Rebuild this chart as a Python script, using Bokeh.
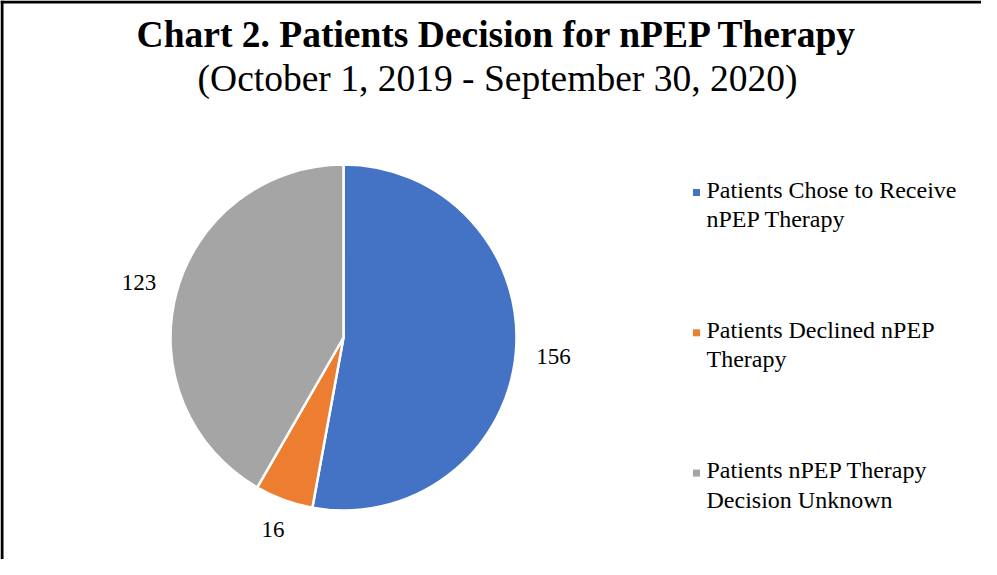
import math
from bokeh.plotting import figure
from bokeh.models import Range1d, Span, ColumnDataSource
from bokeh.core.properties import value
from bokeh.embed import file_html
from bokeh.resources import INLINE

# ---- data ----
title_text = "Chart 2. Patients Decision for nPEP Therapy"
subtitle_text = "(October 1, 2019 - September 30, 2020)"
categories = [
    "Patients Chose to Receive\nnPEP Therapy",
    "Patients Declined nPEP\nTherapy",
    "Patients nPEP Therapy\nDecision Unknown",
]
values = [156, 16, 123]
colors = ["#4472C4", "#ED7D31", "#A5A5A5"]

# ---- layout ----
W, H = 981, 559
FONT = "Liberation Serif"
cx, cy, R = 343, 222, 173
LABEL_FS = 23
label_gap = 20
leg_mx, leg_tx = 696, 706
leg_y0, leg_dy = 355, 140.3

p = figure(width=W, height=H, output_backend="svg", toolbar_location=None,
           x_range=Range1d(0, W), y_range=Range1d(0, H),
           x_axis_location=None, y_axis_location=None, min_border=0)
p.grid.visible = False
p.outline_line_color = None
p.background_fill_color = "white"
p.border_fill_color = "white"

# pie wedges, starting at 12 o'clock, clockwise
total = sum(values)
starts, ends, mids = [], [], []
acc = 0.0
for v in values:
    a0 = math.pi / 2 - 2 * math.pi * acc / total
    acc += v
    a1 = math.pi / 2 - 2 * math.pi * acc / total
    starts.append(a0)
    ends.append(a1)
    mids.append((a0 + a1) / 2)

# outside-end labels: push each label box just clear of the rim
labs = [str(v) for v in values]
lx, ly = [], []
for m, t in zip(mids, labs):
    ux, uy = math.cos(m), math.sin(m)
    hw = 0.25 * LABEL_FS * len(t)
    hh = 0.35 * LABEL_FS
    d = R + label_gap + hw * abs(ux) + hh * abs(uy)
    lx.append(cx + d * ux)
    ly.append(cy + d * uy)

src = ColumnDataSource(dict(
    x=[cx] * len(values), y=[cy] * len(values),
    start=starts, end=ends, color=colors,
    lx=lx, ly=ly, lab=labs,
))
p.wedge(x="x", y="y", radius=R, start_angle="start", end_angle="end",
        direction="clock", fill_color="color", line_color="white",
        line_width=2.5, source=src)
p.text(x="lx", y="ly", text="lab", source=src, text_font=value(FONT),
       text_font_size=f"{LABEL_FS}px", text_color="#000000",
       text_align="center", text_baseline="middle")

# legend
leg = ColumnDataSource(dict(
    mx=[leg_mx] * len(categories),
    my=[leg_y0 - i * leg_dy + 12 for i in range(len(categories))],
    ty=[leg_y0 - i * leg_dy for i in range(len(categories))],
    tx=[leg_tx] * len(categories),
    txt=categories, color=colors,
))
p.rect(x="mx", y="my", width=7, height=7, fill_color="color",
       line_color=None, source=leg)
p.text(x="tx", y="ty", text="txt", source=leg, text_font=value(FONT),
       text_font_size="24px", text_color="#000000", text_align="left",
       text_baseline="middle", text_line_height=1.13)

# titles
p.text(x=[497], y=[525], text=[title_text], text_font=value(FONT),
       text_font_size="37.5px", text_font_style="bold", text_color="#000000",
       text_align="center", text_baseline="alphabetic")
p.text(x=[497], y=[481], text=[subtitle_text], text_font=value(FONT),
       text_font_size="37.5px", text_color="#000000",
       text_align="center", text_baseline="alphabetic")

# frame border (left and top visible)
p.add_layout(Span(location=1.5, dimension="height", line_color="black", line_width=3))
p.add_layout(Span(location=H - 1.5, dimension="width", line_color="black", line_width=3))

open("out.html", "w").write(file_html(p, INLINE))
